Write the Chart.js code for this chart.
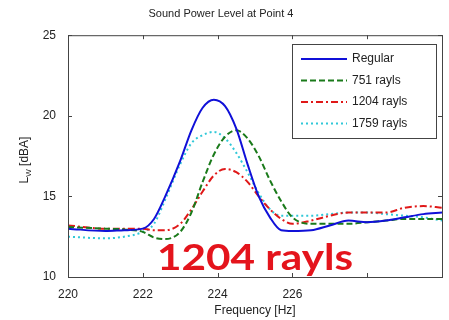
<!DOCTYPE html>
<html>
<head>
<meta charset="utf-8">
<script src="https://cdn.jsdelivr.net/npm/chart.js@4.4.0/dist/chart.umd.min.js"></script>
<style>
  html, body { margin: 0; padding: 0; background: #fff; }
  #wrap { width: 449px; height: 320px; }
</style>
</head>
<body>
<div id="wrap"><canvas id="myChart"></canvas></div>
<script>
// data
var freq = [220, 221, 221.5, 222, 222.3, 222.6, 223, 223.3, 223.6, 223.9, 224.2, 224.5, 224.8, 225.1, 225.4, 225.7, 226, 226.5, 227, 227.5, 228, 228.5, 229, 229.5, 230];
var regular = [13.0, 12.85, 12.9, 13.0, 13.6, 15.0, 17.2, 19.1, 20.5, 21.0, 20.6, 19.2, 17.0, 15.0, 13.7, 12.9, 12.85, 12.9, 13.2, 13.5, 13.4, 13.5, 13.7, 13.9, 14.0];
var r751 = [13.1, 13.0, 12.95, 12.8, 12.45, 12.35, 12.8, 14.0, 15.9, 17.6, 18.7, 19.1, 18.6, 17.5, 16.0, 14.7, 13.7, 13.3, 13.3, 13.3, 13.4, 13.5, 13.6, 13.6, 13.6];
var r1204 = [13.2, 13.0, 13.0, 13.0, 12.9, 12.9, 13.3, 14.2, 15.3, 16.3, 16.7, 16.5, 15.9, 15.0, 14.2, 13.6, 13.3, 13.5, 13.8, 14.0, 14.0, 14.0, 14.3, 14.4, 14.3];
var r1759 = [12.5, 12.4, 12.5, 12.8, 13.3, 14.8, 17.0, 18.3, 18.8, 19.0, 18.6, 17.7, 16.5, 15.2, 14.2, 13.8, 13.8, 13.8, 13.9, 14.0, 14.0, 13.9, 13.8, 13.7, 13.5];
var seriesNames = ['Regular', '751 rayls', '1204 rayls', '1759 rayls'];
var yTicks = [10, 15, 20, 25];
var xTicksShown = [220, 222, 224, 226];

function pts(vals){
  return vals.map(function(v, i){ return {x: freq[i], y: v}; });
}

var FONT = 'Liberation Sans, Arial, sans-serif';

var data1 = {
  datasets: [
    { label: seriesNames[0], data: pts(regular), borderColor: '#1010d8', borderWidth: 2, cubicInterpolationMode: 'monotone' },
    { label: seriesNames[1], data: pts(r751), borderColor: '#1a7a1a', borderWidth: 2, borderDash: [6, 3], cubicInterpolationMode: 'monotone' },
    { label: seriesNames[2], data: pts(r1204), borderColor: '#e01818', borderWidth: 2, borderDash: [7, 3, 2, 3], cubicInterpolationMode: 'monotone' },
    { label: seriesNames[3], data: pts(r1759), borderColor: '#30c8d8', borderWidth: 2, borderDash: [2, 3], cubicInterpolationMode: 'monotone' }
  ]
};

// box, inward ticks, legend, y title with subscript, overlay caption
var extras = {
  id: 'extras',
  afterDraw: function(chart){
    var ctx = chart.ctx, a = chart.chartArea;
    var xs = chart.scales.x, ys = chart.scales.y;
    ctx.save();
    ctx.strokeStyle = '#444';
    ctx.lineWidth = 1;
    ctx.strokeRect(a.left + 0.5, a.top + 0.5, a.right - a.left, a.bottom - a.top);
    ctx.beginPath();
    for (var v = 220; v <= 230; v += 2) {
      var px = Math.round(xs.getPixelForValue(v)) + 0.5;
      ctx.moveTo(px, a.bottom); ctx.lineTo(px, a.bottom - 4);
      ctx.moveTo(px, a.top); ctx.lineTo(px, a.top + 4);
    }
    yTicks.forEach(function(t){
      var py = Math.round(ys.getPixelForValue(t)) + 0.5;
      ctx.moveTo(a.left, py); ctx.lineTo(a.left + 4, py);
      ctx.moveTo(a.right, py); ctx.lineTo(a.right - 4, py);
    });
    ctx.stroke();

    // legend
    var lx = 292, ly = 44, lw = 144, lh = 94;
    ctx.fillStyle = '#fff';
    ctx.fillRect(lx, ly, lw, lh);
    ctx.strokeStyle = '#444';
    ctx.strokeRect(lx + 0.5, ly + 0.5, lw, lh);
    ctx.font = '12px ' + FONT;
    ctx.textBaseline = 'middle';
    chart.data.datasets.forEach(function(ds, i){
      var yy = ly + 15 + i * 21.5;
      ctx.beginPath();
      ctx.strokeStyle = ds.borderColor;
      ctx.lineWidth = 2;
      ctx.setLineDash(ds.borderDash || []);
      ctx.moveTo(lx + 9, yy); ctx.lineTo(lx + 55, yy);
      ctx.stroke();
      ctx.setLineDash([]);
      ctx.fillStyle = '#222';
      ctx.fillText(ds.label, lx + 60, yy);
    });

    // y axis title L_W [dBA]
    ctx.save();
    ctx.translate(24, 160);
    ctx.rotate(-Math.PI / 2);
    ctx.fillStyle = '#222';
    ctx.textBaseline = 'alphabetic';
    ctx.font = '12px ' + FONT;
    var w1 = ctx.measureText('L').width;
    ctx.font = '8px ' + FONT;
    var w2 = ctx.measureText('W').width;
    ctx.font = '12px ' + FONT;
    var w3 = ctx.measureText(' [dBA]').width;
    var sx = -(w1 + w2 + w3) / 2;
    ctx.fillText('L', sx, 4);
    ctx.font = '8px ' + FONT;
    ctx.fillText('W', sx + w1, 7);
    ctx.font = '12px ' + FONT;
    ctx.fillText(' [dBA]', sx + w1 + w2, 4);
    ctx.restore();

    // overlay caption, squeezed to the width seen in the picture
    ctx.save();
    ctx.fillStyle = '#e4141c';
    ctx.textBaseline = 'alphabetic';
    ctx.font = 'bold 37px Lato, "Open Sans", sans-serif';
    var tw = ctx.measureText('1204 rayls').width;
    ctx.translate(157, 270);
    ctx.scale(196 / tw, 1);
    ctx.fillText('1204 rayls', 0, 0);
    ctx.restore();
    ctx.restore();
  }
};

var config1 = {
  type: 'line',
  data: data1,
  options: {
    responsive: true,
    maintainAspectRatio: false,
    animation: false,
    layout: { padding: { left: 0, right: 7, top: 0, bottom: 0 } },
    elements: { point: { radius: 0 } },
    plugins: {
      legend: { display: false },
      tooltip: { enabled: false },
      title: {
        display: true,
        text: 'Sound Power Level at Point 4',
        color: '#222',
        font: { family: FONT, size: 11, weight: 'normal' },
        padding: { top: 7, bottom: 15 }
      }
    },
    scales: {
      x: {
        type: 'linear',
        min: 220,
        max: 230,
        grid: { display: false },
        border: { display: false },
        afterBuildTicks: function(s){ s.ticks = [220, 222, 224, 226, 228, 230].map(function(v){ return {value: v}; }); },
        ticks: {
          color: '#222',
          font: { family: FONT, size: 12 },
          padding: 2,
          maxRotation: 0,
          callback: function(v){ return xTicksShown.indexOf(v) >= 0 ? String(v) : ''; }
        },
        title: {
          display: true,
          text: 'Frequency [Hz]',
          color: '#222',
          font: { family: FONT, size: 12 },
          padding: { top: 0, bottom: 2 }
        },
        afterFit: function(s){ s.height = 43; }
      },
      y: {
        min: 10,
        max: 25,
        grid: { display: false },
        border: { display: false },
        afterBuildTicks: function(s){ s.ticks = yTicks.map(function(v){ return {value: v}; }); },
        ticks: { color: '#222', font: { family: FONT, size: 12 }, padding: 4 },
        afterFit: function(s){ s.width = 68; }
      }
    }
  },
  plugins: [extras]
};

var g_principal = document.getElementById('myChart');
var myChart = new Chart(g_principal, config1);
</script>
</body>
</html>
